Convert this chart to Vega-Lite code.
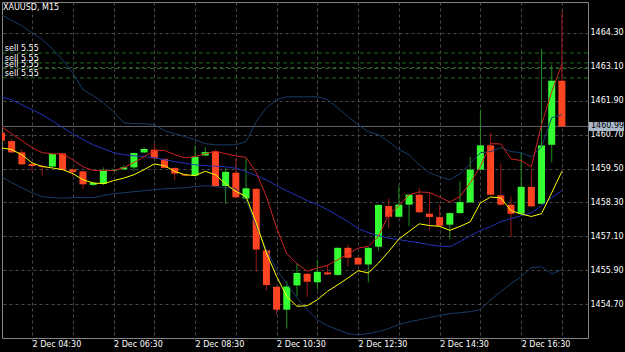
{
  "$schema": "https://vega.github.io/schema/vega-lite/v6.json",
  "width": 586,
  "height": 336,
  "autosize": {"type": "none"},
  "padding": {"left": 2, "top": 2, "right": 37, "bottom": 14},
  "background": "#000000",
  "config": {
    "view": {"stroke": "#858585", "strokeWidth": 1},
    "font": "DejaVu Sans",
    "axis": {"gridColor": "#4a4a4a", "gridDash": [3, 3], "gridWidth": 1, "domain": false, "labelColor": "#ffffff", "labelFont": "DejaVu Sans", "labelFontSize": 8, "tickColor": "#4a4a4a", "labelOverlap": false, "labelBound": false, "labelFlush": false}
  },
  "title": {"text": "XAUUSD, M15", "anchor": "start", "frame": "group", "offset": -10, "dx": 1, "fontSize": 8, "font": "DejaVu Sans", "fontWeight": "normal", "color": "#ffffff"},
  "datasets": {
    "bars": [
      {"t": "2019-12-02T03:45", "o": 1460.77, "h": 1460.85, "l": 1460.45, "c": 1460.49, "r": 1460.98, "y": 1460.23, "m": 1462.04, "u": 1464.95, "d": 1459.21},
      {"t": "2019-12-02T04:00", "o": 1460.47, "h": 1460.55, "l": 1460.05, "c": 1460.07, "r": 1460.73, "y": 1460.17, "m": 1461.94, "u": 1464.74, "d": 1459.00},
      {"t": "2019-12-02T04:15", "o": 1460.07, "h": 1460.19, "l": 1459.63, "c": 1459.65, "r": 1460.49, "y": 1459.99, "m": 1461.76, "u": 1464.56, "d": 1458.82},
      {"t": "2019-12-02T04:30", "o": 1459.66, "h": 1459.70, "l": 1459.43, "c": 1459.59, "r": 1460.24, "y": 1459.70, "m": 1461.58, "u": 1464.31, "d": 1458.64},
      {"t": "2019-12-02T04:45", "o": 1459.59, "h": 1459.65, "l": 1459.26, "c": 1459.56, "r": 1460.06, "y": 1459.57, "m": 1461.41, "u": 1464.06, "d": 1458.50},
      {"t": "2019-12-02T05:00", "o": 1459.57, "h": 1460.03, "l": 1459.55, "c": 1460.01, "r": 1460.02, "y": 1459.52, "m": 1461.19, "u": 1463.74, "d": 1458.47},
      {"t": "2019-12-02T05:15", "o": 1460.03, "h": 1460.05, "l": 1459.44, "c": 1459.46, "r": 1460.02, "y": 1459.46, "m": 1460.95, "u": 1463.35, "d": 1458.45},
      {"t": "2019-12-02T05:30", "o": 1459.47, "h": 1459.50, "l": 1459.22, "c": 1459.38, "r": 1459.81, "y": 1459.32, "m": 1460.73, "u": 1462.89, "d": 1458.47},
      {"t": "2019-12-02T05:45", "o": 1459.40, "h": 1459.42, "l": 1458.77, "c": 1458.94, "r": 1459.56, "y": 1459.10, "m": 1460.52, "u": 1462.29, "d": 1458.47},
      {"t": "2019-12-02T06:00", "o": 1458.92, "h": 1459.00, "l": 1458.88, "c": 1458.99, "r": 1459.43, "y": 1458.99, "m": 1460.34, "u": 1462.08, "d": 1458.47},
      {"t": "2019-12-02T06:15", "o": 1458.95, "h": 1459.54, "l": 1458.93, "c": 1459.42, "r": 1459.43, "y": 1458.96, "m": 1460.20, "u": 1461.83, "d": 1458.54},
      {"t": "2019-12-02T06:30", "o": 1459.42, "h": 1459.47, "l": 1459.40, "c": 1459.45, "r": 1459.43, "y": 1459.07, "m": 1460.06, "u": 1461.51, "d": 1458.61},
      {"t": "2019-12-02T06:45", "o": 1459.47, "h": 1459.61, "l": 1459.45, "c": 1459.54, "r": 1459.53, "y": 1459.16, "m": 1459.99, "u": 1461.12, "d": 1458.64},
      {"t": "2019-12-02T07:00", "o": 1459.54, "h": 1460.07, "l": 1459.40, "c": 1460.05, "r": 1459.71, "y": 1459.28, "m": 1459.95, "u": 1461.09, "d": 1458.68},
      {"t": "2019-12-02T07:15", "o": 1460.07, "h": 1460.25, "l": 1460.05, "c": 1460.19, "r": 1459.92, "y": 1459.46, "m": 1459.92, "u": 1461.09, "d": 1458.71},
      {"t": "2019-12-02T07:30", "o": 1460.17, "h": 1460.39, "l": 1459.84, "c": 1459.86, "r": 1460.14, "y": 1459.66, "m": 1459.88, "u": 1461.05, "d": 1458.75},
      {"t": "2019-12-02T07:45", "o": 1459.84, "h": 1459.86, "l": 1459.50, "c": 1459.52, "r": 1460.14, "y": 1459.60, "m": 1459.81, "u": 1460.84, "d": 1458.78},
      {"t": "2019-12-02T08:00", "o": 1459.52, "h": 1459.54, "l": 1459.10, "c": 1459.32, "r": 1459.99, "y": 1459.40, "m": 1459.74, "u": 1460.73, "d": 1458.80},
      {"t": "2019-12-02T08:15", "o": 1459.29, "h": 1459.31, "l": 1459.22, "c": 1459.25, "r": 1459.88, "y": 1459.28, "m": 1459.69, "u": 1460.63, "d": 1458.82},
      {"t": "2019-12-02T08:30", "o": 1459.25, "h": 1460.31, "l": 1459.23, "c": 1459.91, "r": 1459.92, "y": 1459.25, "m": 1459.63, "u": 1460.52, "d": 1458.86},
      {"t": "2019-12-02T08:45", "o": 1459.96, "h": 1460.25, "l": 1459.94, "c": 1460.08, "r": 1460.02, "y": 1459.40, "m": 1459.60, "u": 1460.38, "d": 1458.89},
      {"t": "2019-12-02T09:00", "o": 1460.11, "h": 1460.17, "l": 1458.86, "c": 1458.88, "r": 1460.11, "y": 1459.28, "m": 1459.58, "u": 1460.34, "d": 1458.86},
      {"t": "2019-12-02T09:15", "o": 1458.88, "h": 1459.52, "l": 1458.24, "c": 1459.38, "r": 1460.02, "y": 1458.95, "m": 1459.56, "u": 1460.34, "d": 1458.82},
      {"t": "2019-12-02T09:30", "o": 1459.35, "h": 1459.87, "l": 1458.45, "c": 1458.48, "r": 1459.95, "y": 1458.69, "m": 1459.51, "u": 1460.34, "d": 1458.78},
      {"t": "2019-12-02T09:45", "o": 1458.44, "h": 1459.84, "l": 1458.42, "c": 1458.80, "r": 1459.89, "y": 1458.51, "m": 1459.39, "u": 1460.45, "d": 1458.40},
      {"t": "2019-12-02T10:00", "o": 1458.78, "h": 1458.80, "l": 1455.83, "c": 1456.63, "r": 1459.36, "y": 1457.57, "m": 1459.25, "u": 1461.16, "d": 1457.47},
      {"t": "2019-12-02T10:15", "o": 1456.60, "h": 1456.62, "l": 1455.18, "c": 1455.37, "r": 1458.51, "y": 1456.51, "m": 1459.10, "u": 1461.65, "d": 1456.62},
      {"t": "2019-12-02T10:30", "o": 1455.31, "h": 1455.33, "l": 1454.32, "c": 1454.50, "r": 1457.39, "y": 1455.68, "m": 1458.89, "u": 1461.94, "d": 1455.92},
      {"t": "2019-12-02T10:45", "o": 1454.50, "h": 1455.50, "l": 1453.83, "c": 1455.32, "r": 1456.48, "y": 1454.97, "m": 1458.71, "u": 1462.04, "d": 1455.42},
      {"t": "2019-12-02T11:00", "o": 1455.36, "h": 1456.13, "l": 1454.97, "c": 1455.80, "r": 1456.13, "y": 1454.62, "m": 1458.54, "u": 1462.04, "d": 1454.92},
      {"t": "2019-12-02T11:15", "o": 1455.77, "h": 1455.80, "l": 1454.95, "c": 1455.49, "r": 1455.86, "y": 1454.64, "m": 1458.36, "u": 1462.04, "d": 1454.50},
      {"t": "2019-12-02T11:30", "o": 1455.47, "h": 1456.27, "l": 1455.21, "c": 1455.84, "r": 1455.98, "y": 1454.85, "m": 1458.22, "u": 1462.04, "d": 1454.14},
      {"t": "2019-12-02T11:45", "o": 1455.82, "h": 1456.09, "l": 1455.72, "c": 1455.75, "r": 1456.07, "y": 1455.15, "m": 1458.04, "u": 1461.94, "d": 1453.93},
      {"t": "2019-12-02T12:00", "o": 1455.73, "h": 1456.71, "l": 1455.70, "c": 1456.69, "r": 1456.27, "y": 1455.38, "m": 1457.83, "u": 1461.65, "d": 1453.79},
      {"t": "2019-12-02T12:15", "o": 1456.69, "h": 1456.80, "l": 1456.03, "c": 1456.34, "r": 1456.47, "y": 1455.62, "m": 1457.62, "u": 1461.34, "d": 1453.65},
      {"t": "2019-12-02T12:30", "o": 1456.34, "h": 1456.36, "l": 1456.08, "c": 1456.10, "r": 1456.68, "y": 1455.88, "m": 1457.37, "u": 1461.05, "d": 1453.61},
      {"t": "2019-12-02T12:45", "o": 1456.10, "h": 1456.71, "l": 1455.47, "c": 1456.69, "r": 1456.74, "y": 1455.80, "m": 1457.23, "u": 1460.80, "d": 1453.65},
      {"t": "2019-12-02T13:00", "o": 1456.73, "h": 1458.23, "l": 1456.60, "c": 1458.21, "r": 1457.10, "y": 1456.15, "m": 1457.12, "u": 1460.70, "d": 1453.72},
      {"t": "2019-12-02T13:15", "o": 1458.17, "h": 1458.44, "l": 1457.39, "c": 1457.79, "r": 1457.86, "y": 1456.56, "m": 1457.03, "u": 1460.45, "d": 1453.83},
      {"t": "2019-12-02T13:30", "o": 1457.79, "h": 1458.89, "l": 1457.77, "c": 1458.22, "r": 1458.18, "y": 1457.00, "m": 1456.98, "u": 1460.17, "d": 1453.97},
      {"t": "2019-12-02T13:45", "o": 1458.22, "h": 1458.60, "l": 1457.45, "c": 1458.57, "r": 1458.57, "y": 1457.27, "m": 1456.92, "u": 1459.99, "d": 1454.07},
      {"t": "2019-12-02T14:00", "o": 1458.57, "h": 1458.81, "l": 1457.93, "c": 1457.95, "r": 1458.67, "y": 1457.54, "m": 1456.87, "u": 1459.63, "d": 1454.14},
      {"t": "2019-12-02T14:15", "o": 1457.90, "h": 1458.63, "l": 1457.31, "c": 1457.78, "r": 1458.65, "y": 1457.48, "m": 1456.80, "u": 1459.35, "d": 1454.22},
      {"t": "2019-12-02T14:30", "o": 1457.78, "h": 1458.22, "l": 1457.45, "c": 1457.47, "r": 1458.49, "y": 1457.45, "m": 1456.75, "u": 1459.21, "d": 1454.29},
      {"t": "2019-12-02T14:45", "o": 1457.51, "h": 1457.94, "l": 1457.00, "c": 1457.92, "r": 1458.31, "y": 1457.31, "m": 1456.73, "u": 1459.10, "d": 1454.36},
      {"t": "2019-12-02T15:00", "o": 1457.92, "h": 1459.04, "l": 1457.90, "c": 1458.31, "r": 1458.51, "y": 1457.45, "m": 1456.91, "u": 1459.32, "d": 1454.39},
      {"t": "2019-12-02T15:15", "o": 1458.30, "h": 1459.91, "l": 1458.28, "c": 1459.46, "r": 1458.99, "y": 1457.61, "m": 1457.12, "u": 1459.67, "d": 1454.43},
      {"t": "2019-12-02T15:30", "o": 1459.46, "h": 1461.58, "l": 1459.44, "c": 1460.32, "r": 1459.57, "y": 1458.28, "m": 1457.30, "u": 1460.06, "d": 1454.50},
      {"t": "2019-12-02T15:45", "o": 1460.32, "h": 1460.76, "l": 1458.55, "c": 1458.57, "r": 1460.38, "y": 1458.49, "m": 1457.44, "u": 1460.10, "d": 1454.85},
      {"t": "2019-12-02T16:00", "o": 1458.55, "h": 1459.67, "l": 1458.18, "c": 1458.22, "r": 1460.37, "y": 1458.46, "m": 1457.62, "u": 1460.24, "d": 1455.14},
      {"t": "2019-12-02T16:15", "o": 1458.22, "h": 1458.51, "l": 1457.07, "c": 1457.90, "r": 1459.84, "y": 1458.01, "m": 1457.72, "u": 1460.10, "d": 1455.42},
      {"t": "2019-12-02T16:30", "o": 1457.90, "h": 1460.05, "l": 1457.88, "c": 1458.85, "r": 1459.78, "y": 1457.89, "m": 1457.83, "u": 1460.06, "d": 1455.67},
      {"t": "2019-12-02T16:45", "o": 1458.85, "h": 1459.48, "l": 1458.14, "c": 1458.16, "r": 1459.56, "y": 1457.80, "m": 1457.93, "u": 1459.92, "d": 1455.99},
      {"t": "2019-12-02T17:00", "o": 1458.25, "h": 1463.73, "l": 1458.23, "c": 1460.32, "r": 1461.05, "y": 1457.90, "m": 1458.18, "u": 1460.27, "d": 1456.02},
      {"t": "2019-12-02T17:15", "o": 1460.34, "h": 1463.18, "l": 1459.72, "c": 1462.61, "r": 1462.22, "y": 1458.64, "m": 1458.47, "u": 1461.30, "d": 1455.77},
      {"t": "2019-12-02T17:30", "o": 1462.61, "h": 1465.07, "l": 1460.97, "c": 1460.99, "r": 1463.18, "y": 1459.40, "m": 1458.71, "u": 1461.41, "d": 1455.92}
    ],
    "orders": [
      {"price": 1463.59, "label": "sell 5.55"},
      {"price": 1463.24, "label": "sell 5.55"},
      {"price": 1463.04, "label": "sell 5.55"},
      {"price": 1462.71, "label": "sell 5.55"}
    ],
    "last": [{"price": 1460.99, "label": "1460.99"}]
  },
  "layer": [
    {
      "data": {"name": "bars"},
      "mark": {"type": "rule", "strokeWidth": 1, "clip": true},
      "encoding": {
        "x": {
          "field": "t", "type": "temporal", "title": null,
          "scale": {"domain": [
            {"year": 2019, "month": 12, "date": 2, "hours": 3, "minutes": 45, "seconds": 48},
            {"year": 2019, "month": 12, "date": 2, "hours": 18, "minutes": 8, "seconds": 24}
          ], "padding": 0, "nice": false},
          "axis": {
            "orient": "bottom",
            "title": null,
            "values": [
              {"year": 2019, "month": 12, "date": 2, "hours": 4, "minutes": 30},
              {"year": 2019, "month": 12, "date": 2, "hours": 5, "minutes": 30},
              {"year": 2019, "month": 12, "date": 2, "hours": 6, "minutes": 30},
              {"year": 2019, "month": 12, "date": 2, "hours": 7, "minutes": 30},
              {"year": 2019, "month": 12, "date": 2, "hours": 8, "minutes": 30},
              {"year": 2019, "month": 12, "date": 2, "hours": 9, "minutes": 30},
              {"year": 2019, "month": 12, "date": 2, "hours": 10, "minutes": 30},
              {"year": 2019, "month": 12, "date": 2, "hours": 11, "minutes": 30},
              {"year": 2019, "month": 12, "date": 2, "hours": 12, "minutes": 30},
              {"year": 2019, "month": 12, "date": 2, "hours": 13, "minutes": 30},
              {"year": 2019, "month": 12, "date": 2, "hours": 14, "minutes": 30},
              {"year": 2019, "month": 12, "date": 2, "hours": 15, "minutes": 30},
              {"year": 2019, "month": 12, "date": 2, "hours": 16, "minutes": 30},
              {"year": 2019, "month": 12, "date": 2, "hours": 17, "minutes": 30}
            ],
            "labelExpr": "hours(datum.value) % 2 == 0 ? timeFormat(datum.value, '%-d %b %H:%M') : ''",
            "grid": true,
            "ticks": true, "tickSize": 3,
            "labelAlign": "left", "labelBaseline": "top", "labelPadding": -1
          }
        },
        "y": {
          "field": "h", "type": "quantitative", "title": null,
          "scale": {"domain": [1453.496, 1465.398], "nice": false, "zero": false, "padding": 0},
          "axis": {
            "orient": "right", "title": null,
            "values": [1454.7, 1455.9, 1457.1, 1458.3, 1459.5, 1460.7, 1461.9, 1463.1, 1464.3],
            "format": ".2f",
            "grid": true,
            "ticks": false, "labelPadding": 2,
            "labelAlign": "left", "labelBaseline": "middle"
          }
        },
        "y2": {"field": "l"},
        "color": {"condition": {"test": "datum.c >= datum.o", "value": "#1f8f1f"}, "value": "#9a1a1a"}
      }
    },
    {
      "data": {"name": "last"},
      "mark": {"type": "rule", "color": "#62626c", "strokeWidth": 1},
      "encoding": {"y": {"field": "price", "type": "quantitative", "title": null}}
    },
    {
      "data": {"name": "orders"},
      "mark": {"type": "rule", "color": "#1d6e1d", "strokeWidth": 1, "strokeDash": [4, 3]},
      "encoding": {"y": {"field": "price", "type": "quantitative", "title": null}}
    },
    {
      "data": {"name": "orders"},
      "mark": {"type": "text", "align": "left", "baseline": "alphabetic", "dy": -2, "fontSize": 8, "font": "DejaVu Sans", "color": "#ffffff"},
      "encoding": {
        "x": {"datum": {"year": 2019, "month": 12, "date": 2, "hours": 3, "minutes": 50}, "type": "temporal", "title": null},
        "y": {"field": "price", "type": "quantitative", "title": null},
        "text": {"field": "label"}
      }
    },
    {
      "data": {"name": "bars"},
      "mark": {"type": "bar", "width": 7, "clip": true},
      "encoding": {
        "x": {"field": "t", "type": "temporal", "title": null},
        "y": {"field": "o", "type": "quantitative", "title": null},
        "y2": {"field": "c"},
        "color": {"condition": {"test": "datum.c >= datum.o", "value": "#33ff33"}, "value": "#ff4422"}
      }
    },
    {
      "data": {"name": "bars"},
      "mark": {"type": "line", "color": "#173d66", "strokeWidth": 1, "clip": true},
      "encoding": {
        "x": {"field": "t", "type": "temporal", "title": null},
        "y": {"field": "u", "type": "quantitative", "title": null}
      }
    },
    {
      "data": {"name": "bars"},
      "mark": {"type": "line", "color": "#173d66", "strokeWidth": 1, "clip": true},
      "encoding": {
        "x": {"field": "t", "type": "temporal", "title": null},
        "y": {"field": "d", "type": "quantitative", "title": null}
      }
    },
    {
      "data": {"name": "bars"},
      "mark": {"type": "line", "color": "#2232b8", "strokeWidth": 1, "clip": true},
      "encoding": {
        "x": {"field": "t", "type": "temporal", "title": null},
        "y": {"field": "m", "type": "quantitative", "title": null}
      }
    },
    {
      "data": {"name": "bars"},
      "mark": {"type": "line", "color": "#cc2222", "strokeWidth": 1, "clip": true},
      "encoding": {
        "x": {"field": "t", "type": "temporal", "title": null},
        "y": {"field": "r", "type": "quantitative", "title": null}
      }
    },
    {
      "data": {"name": "bars"},
      "mark": {"type": "line", "color": "#ffff00", "strokeWidth": 1, "clip": true},
      "encoding": {
        "x": {"field": "t", "type": "temporal", "title": null},
        "y": {"field": "y", "type": "quantitative", "title": null}
      }
    },
    {
      "data": {"name": "last"},
      "mark": {"type": "rule", "color": "#a9b8c8", "strokeWidth": 9, "strokeCap": "butt", "xOffset": 1, "x2Offset": 36, "clip": false},
      "encoding": {
        "x": {"datum": {"year": 2019, "month": 12, "date": 2, "hours": 18, "minutes": 8, "seconds": 24}, "type": "temporal", "title": null},
        "x2": {"datum": {"year": 2019, "month": 12, "date": 2, "hours": 18, "minutes": 8, "seconds": 24}},
        "y": {"field": "price", "type": "quantitative", "title": null}
      }
    },
    {
      "data": {"name": "last"},
      "mark": {"type": "text", "align": "left", "baseline": "middle", "dx": 3, "fontSize": 8, "font": "DejaVu Sans", "color": "#000000", "clip": false},
      "encoding": {
        "x": {"datum": {"year": 2019, "month": 12, "date": 2, "hours": 18, "minutes": 8, "seconds": 24}, "type": "temporal", "title": null},
        "y": {"field": "price", "type": "quantitative", "title": null},
        "text": {"field": "label"}
      }
    }
  ]
}
